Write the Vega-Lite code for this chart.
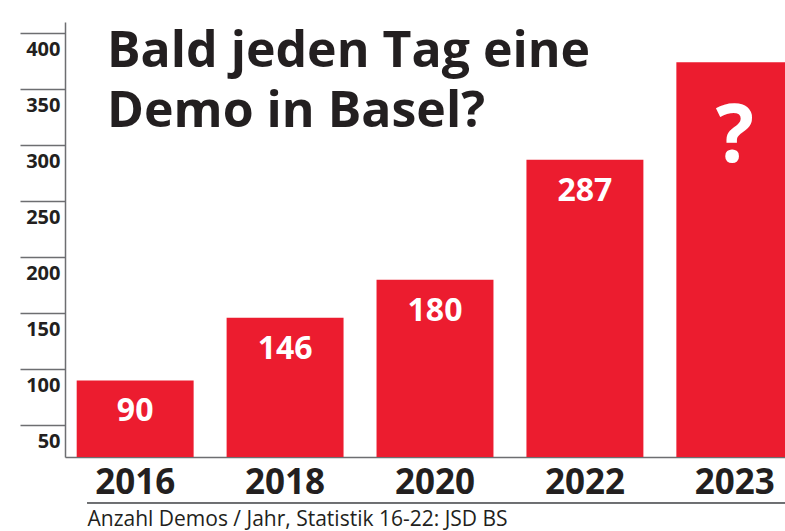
{
  "$schema": "https://vega.github.io/schema/vega-lite/v6.json",
  "width": 720,
  "height": 435,
  "autosize": {"type": "none"},
  "padding": {"left": 65, "top": 22, "right": 0, "bottom": 74},
  "background": "white",
  "config": {"view": {"stroke": null}},
  "title": {
    "text": ["Bald jeden Tag eine", "Demo in Basel?"],
    "anchor": "start",
    "frame": "group",
    "orient": "top",
    "baseline": "top",
    "offset": 0,
    "dx": 42,
    "dy": 115,
    "font": "Open Sans",
    "fontSize": 50,
    "fontWeight": "bold",
    "color": "#231f20",
    "lineHeight": 60
  },
  "data": {
    "values": [
      {"year": "2016", "demos": 90, "label": "90"},
      {"year": "2018", "demos": 146, "label": "146"},
      {"year": "2020", "demos": 180, "label": "180"},
      {"year": "2022", "demos": 287, "label": "287"},
      {"year": "2023", "demos": 374, "label": "?"}
    ]
  },
  "encoding": {
    "x": {
      "field": "year",
      "type": "nominal",
      "sort": null,
      "scale": {"range": [0, 740], "paddingInner": 0.22, "paddingOuter": 0.078},
      "axis": {
        "title": "Anzahl Demos / Jahr, Statistik 16-22: JSD BS",
        "titleFont": "Open Sans",
        "titleFontSize": 21,
        "titleFontWeight": "normal",
        "titleColor": "#231f20",
        "titleX": 22,
        "titleY": 68,
        "titleAlign": "left",
        "titleAnchor": null,
        "titleBaseline": "alphabetic",
        "labelFont": "Open Sans",
        "labelFontSize": 35,
        "labelFontWeight": "bold",
        "labelColor": "#231f20",
        "labelAngle": 0,
        "labelPadding": 8.5,
        "ticks": false,
        "domainColor": "#6d6e71",
        "domainWidth": 1.5
      }
    }
  },
  "layer": [
    {
      "mark": {"type": "bar", "color": "#ec1c2f", "clip": true},
      "encoding": {
        "y": {
          "field": "demos",
          "type": "quantitative",
          "scale": {"domain": [21.7, 410], "nice": false, "zero": false},
          "axis": {
            "title": null,
            "values": [50, 100, 150, 200, 250, 300, 350, 400],
            "grid": false,
            "tickSize": 45,
            "tickColor": "#6d6e71",
            "tickWidth": 1.5,
            "domainColor": "#6d6e71",
            "domainWidth": 1.5,
            "labelFont": "Open Sans",
            "labelFontSize": 20,
            "labelFontWeight": "bold",
            "labelColor": "#231f20",
            "labelBaseline": "top",
            "labelOffset": 6,
            "labelPadding": -40
          }
        }
      }
    },
    {
      "transform": [{"filter": "datum.year != '2023'"}],
      "mark": {"type": "text", "baseline": "top", "dy": 16, "font": "Open Sans", "fontSize": 32, "fontWeight": "bold", "color": "white"},
      "encoding": {
        "y": {"field": "demos", "type": "quantitative"},
        "text": {"field": "label"}
      }
    },
    {
      "transform": [{"filter": "datum.year == '2023'"}],
      "mark": {"type": "text", "baseline": "top", "dy": 37, "font": "Open Sans", "fontSize": 80, "fontWeight": "bold", "color": "white"},
      "encoding": {
        "y": {"field": "demos", "type": "quantitative"},
        "text": {"field": "label"}
      }
    },
    {
      "mark": {"type": "rule", "color": "#6d6e71", "strokeWidth": 1.5},
      "encoding": {
        "x": {"datum": "2016", "bandPosition": 0.09},
        "x2": {"datum": "2023", "bandPosition": 1},
        "y": {"datum": -19.1, "type": "quantitative"}
      }
    }
  ]
}
